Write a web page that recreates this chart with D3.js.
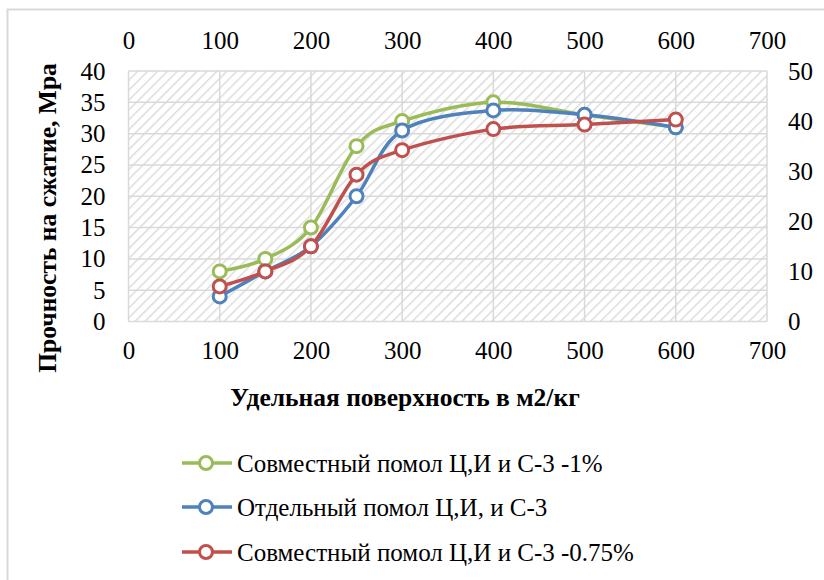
<!DOCTYPE html>
<html><head><meta charset="utf-8">
<script src="https://cdn.jsdelivr.net/npm/d3@7"></script>
<style>
html,body{margin:0;padding:0;background:#fff;}
</style></head>
<body>
<script>
const xValues = [100, 150, 200, 250, 300, 400, 500, 600];
const seriesNames = ["Совместный помол Ц,И и С-3 -1%", "Отдельный помол Ц,И, и С-3", "Совместный помол Ц,И и С-3 -0.75%"];
const greenValues = [8, 10, 15, 28, 32, 35, 33, 31];
const blueValues = [4, 8, 12, 20, 30.5, 33.7, 33, 31];
const redValues = [7, 10, 15, 29.3, 34.2, 38.4, 39.3, 40.3]; // secondary axes
const xTicks = [0, 100, 200, 300, 400, 500, 600, 700];
const yLeftTicks = [0, 5, 10, 15, 20, 25, 30, 35, 40];
const yRightTicks = [0, 10, 20, 30, 40, 50];
const colors = ["#9BBB59", "#4F81BD", "#C0504D"];
const xTitle = "Удельная поверхность в м2/кг";
const yTitle = "Прочность на сжатие, Мра";

const FONT = "'Liberation Serif', 'Times New Roman', serif";
const W = 824, H = 580;
const L = 128.5, R = 767, T = 71, B = 321.5;

const svg = d3.select("body").append("svg").attr("width", W).attr("height", H)
  .style("display", "block").attr("font-family", FONT);
const defs = svg.append("defs");
const pat = defs.append("pattern").attr("id", "hatch").attr("patternUnits", "userSpaceOnUse")
  .attr("width", 7).attr("height", 7).attr("patternTransform", "rotate(45)");
pat.append("rect").attr("width", 7).attr("height", 7).attr("fill", "#fff");
pat.append("line").attr("x1", 0).attr("y1", 0).attr("x2", 0).attr("y2", 7)
  .attr("stroke", "#dcdcdc").attr("stroke-width", 3);

// outer chart border
svg.append("rect").attr("x", 7.5).attr("y", 9.5).attr("width", 830).attr("height", 600)
  .attr("fill", "#fff").attr("stroke", "#d9d9d9").attr("stroke-width", 2);

const x = d3.scaleLinear().domain([0, 700]).range([L, R]);
const x2 = d3.scaleLinear().domain([0, 700]).range([L, R]);
const y = d3.scaleLinear().domain([0, 40]).range([B, T]);
const y2 = d3.scaleLinear().domain([0, 50]).range([B, T]);

svg.append("rect").attr("x", L).attr("y", T).attr("width", R - L).attr("height", B - T).attr("fill", "url(#hatch)");

// gridlines
const g = svg.append("g");
g.selectAll(".hg").data(yLeftTicks).enter().append("line")
  .attr("x1", L).attr("x2", R).attr("y1", d => y(d)).attr("y2", d => y(d))
  .attr("stroke", "#d9d9d9").attr("stroke-width", 1.5);
g.selectAll(".vg").data(xTicks).enter().append("line")
  .attr("y1", T).attr("y2", B).attr("x1", d => x(d)).attr("x2", d => x(d))
  .attr("stroke", "#d9d9d9").attr("stroke-width", 1.5);

// axes
function styleAxis(sel) {
  sel.attr("font-family", FONT).attr("font-size", 25);
  sel.select(".domain").remove();
  sel.selectAll(".tick line").remove();
  sel.selectAll("text").attr("fill", "#000");
}
svg.append("g").attr("transform", `translate(0,${B})`)
  .call(d3.axisBottom(x).tickValues(xTicks).tickSize(0).tickPadding(20)).call(styleAxis);
svg.append("g").attr("transform", `translate(0,${T})`)
  .call(d3.axisTop(x2).tickValues(xTicks).tickSize(0).tickPadding(22)).call(styleAxis);
svg.append("g").attr("transform", `translate(${L},0)`)
  .call(d3.axisLeft(y).tickValues(yLeftTicks).tickSize(0).tickPadding(23)).call(styleAxis);
svg.append("g").attr("transform", `translate(${R},0)`)
  .call(d3.axisRight(y2).tickValues(yRightTicks).tickSize(0).tickPadding(21)).call(styleAxis);

// titles
svg.append("text").attr("x", 405).attr("y", 406).attr("text-anchor", "middle")
  .attr("font-size", 25.5).attr("font-weight", "bold").text(xTitle);
svg.append("text").attr("transform", "translate(56,218) rotate(-90)").attr("text-anchor", "middle")
  .attr("font-size", 25.5).attr("font-weight", "bold").text(yTitle);

// series
const series = [
  {vals: greenValues, xs: x, ys: y, c: colors[0]},
  {vals: blueValues, xs: x, ys: y, c: colors[1]},
  {vals: redValues, xs: x2, ys: y2, c: colors[2]}
];
series.forEach(s => {
  const pts = xValues.map((xv, i) => [s.xs(xv), s.ys(s.vals[i])]);
  svg.append("path").attr("d", d3.line().curve(d3.curveCatmullRom.alpha(0))(pts))
    .attr("fill", "none").attr("stroke", s.c).attr("stroke-width", 3.5).attr("stroke-linecap", "round");
  svg.append("g").selectAll("circle").data(pts).enter().append("circle")
    .attr("cx", d => d[0]).attr("cy", d => d[1]).attr("r", 6.5)
    .attr("fill", "#fff").attr("stroke", s.c).attr("stroke-width", 3);
});

// legend
const legY = [463, 507, 552];
seriesNames.forEach((n, i) => {
  const lg = svg.append("g");
  lg.append("line").attr("x1", 182).attr("x2", 232).attr("y1", legY[i]).attr("y2", legY[i])
    .attr("stroke", colors[i]).attr("stroke-width", 3.5);
  lg.append("circle").attr("cx", 206).attr("cy", legY[i]).attr("r", 6.5)
    .attr("fill", "#fff").attr("stroke", colors[i]).attr("stroke-width", 3);
  lg.append("text").attr("x", 237).attr("y", legY[i] + 8.5).attr("font-size", 25).text(n);
});
</script>
</body></html>
